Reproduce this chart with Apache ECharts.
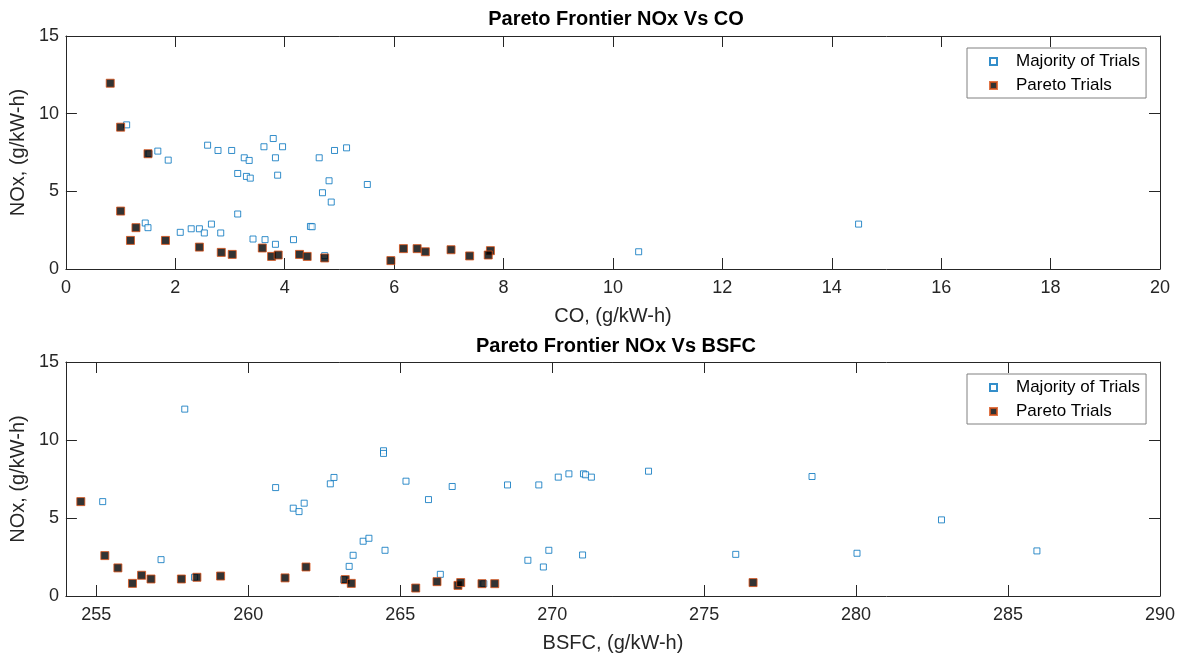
<!DOCTYPE html>
<html>
<head>
<meta charset="utf-8">
<script src="https://cdn.jsdelivr.net/npm/echarts@6/dist/echarts.min.js"></script>
<style>
  html, body { margin: 0; padding: 0; background: #fff; }
  #chart { width: 1182px; height: 658px; }
</style>
</head>
<body>
<div id="chart"></div>
<script>
// NOx vs CO, all trials: [CO, NOx]
const coMajority = [
  [1.11, 9.28], [1.68, 7.59], [1.87, 7.01], [2.59, 7.97], [2.78, 7.63],
  [3.03, 7.63], [3.14, 6.15], [3.26, 7.16], [3.35, 6.99], [3.30, 5.96],
  [3.37, 5.85], [3.62, 7.87], [3.79, 8.40], [3.83, 7.16], [3.96, 7.87],
  [3.87, 6.04], [4.63, 7.16], [4.91, 7.63], [5.13, 7.80], [4.69, 4.91],
  [4.81, 5.68], [4.85, 4.31], [5.51, 5.44], [3.14, 3.54], [1.45, 2.96],
  [1.50, 2.66], [2.09, 2.36], [2.29, 2.59], [2.44, 2.59], [2.53, 2.32],
  [2.66, 2.89], [2.83, 2.32], [3.42, 1.93], [3.64, 1.89], [3.83, 1.59],
  [4.16, 1.89], [4.47, 2.74], [4.50, 2.72], [4.73, 0.86], [1.52, 7.42],
  [10.47, 1.11], [14.49, 2.89]
];
// NOx vs CO, Pareto trials: [CO, NOx]
const coPareto = [
  [0.81, 11.96], [1.00, 9.13], [1.50, 7.42], [1.00, 3.73], [1.18, 1.84],
  [1.28, 2.66], [1.82, 1.84], [2.44, 1.41], [2.84, 1.07], [3.04, 0.94],
  [3.59, 1.35], [3.76, 0.81], [3.88, 0.90], [4.27, 0.94], [4.41, 0.81],
  [4.73, 0.71], [5.94, 0.54], [6.17, 1.31], [6.42, 1.31], [6.57, 1.11],
  [7.04, 1.24], [7.38, 0.84], [7.76, 1.18], [7.72, 0.90]
];
// NOx vs BSFC, all trials: [BSFC, NOx]
const bsfcMajority = [
  [255.21, 6.05], [257.91, 11.98], [257.13, 2.33], [258.23, 1.20], [260.90, 6.95],
  [261.48, 5.63], [261.67, 5.41], [261.84, 5.95], [262.70, 7.19], [262.82, 7.60],
  [263.14, 1.05], [263.32, 1.90], [263.45, 2.61], [263.78, 3.51], [263.97, 3.70],
  [264.45, 9.31], [264.45, 9.14], [264.50, 2.93], [265.19, 7.36], [265.93, 6.18],
  [266.71, 7.02], [268.53, 7.12], [269.56, 7.12], [270.20, 7.62], [270.55, 7.83],
  [271.03, 7.83], [271.10, 7.77], [271.29, 7.62], [273.17, 8.00], [266.32, 1.39],
  [269.20, 2.29], [269.71, 1.86], [269.89, 2.93], [271.00, 2.63], [276.04, 2.67],
  [267.75, 0.79], [278.55, 7.66], [280.03, 2.74], [282.81, 4.88], [285.95, 2.89]
];
// NOx vs BSFC, Pareto trials: [BSFC, NOx]
const bsfcPareto = [
  [254.49, 6.05], [255.28, 2.59], [255.71, 1.80], [256.19, 0.81], [256.49, 1.33],
  [256.80, 1.09], [257.80, 1.09], [258.31, 1.20], [259.09, 1.28], [261.21, 1.16],
  [261.90, 1.86], [263.19, 1.05], [263.39, 0.81], [265.51, 0.51], [266.21, 0.92],
  [266.90, 0.68], [266.99, 0.86], [267.69, 0.79], [268.11, 0.79], [276.61, 0.86]
];
const bsfcTicks = [255, 260, 265, 270, 275, 280, 285, 290];
const seriesNames = ['Majority of Trials', 'Pareto Trials'];
const titles = ['Pareto Frontier NOx Vs CO', 'Pareto Frontier NOx Vs BSFC'];

const FONT = 'Liberation Sans, Arial, Helvetica, sans-serif';
const AXIS = '#262626';
const BLUE = '#0072BD';
const ORANGE = '#D95319';

const lineStyle = { color: AXIS, width: 1 };
const tickStyle = { show: true, inside: true, length: 11, lineStyle: lineStyle };
const labelStyle = { color: AXIS, fontFamily: FONT, fontSize: 18 };
const nameStyle = { color: AXIS, fontFamily: FONT, fontSize: 20 };

function xPair(grid, min, max, interval, ticks, name) {
  const tick = Object.assign({}, tickStyle);
  const label = Object.assign({ margin: 10 }, labelStyle);
  if (ticks) { tick.customValues = ticks; label.customValues = ticks; }
  const base = {
    type: 'value', gridIndex: grid, min: min, max: max,
    splitLine: { show: false },
    axisLine: { show: true, onZero: false, lineStyle: lineStyle }
  };
  if (interval) base.interval = interval;
  const bottom = Object.assign({}, base, {
    position: 'bottom', name: name, nameLocation: 'middle', nameGap: 37,
    nameTextStyle: nameStyle, axisTick: tick, axisLabel: label
  });
  const top = Object.assign({}, base, {
    position: 'top', axisTick: tick, axisLabel: { show: false }
  });
  return [bottom, top];
}

function yPair(grid) {
  const base = {
    type: 'value', gridIndex: grid, min: 0, max: 15, interval: 5,
    splitLine: { show: false },
    axisLine: { show: true, onZero: false, lineStyle: lineStyle },
    axisTick: tickStyle
  };
  const left = Object.assign({}, base, {
    position: 'left', name: 'NOx, (g/kW-h)', nameLocation: 'middle', nameGap: 30,
    nameTextStyle: nameStyle, axisLabel: Object.assign({ margin: 7 }, labelStyle)
  });
  const right = Object.assign({}, base, { position: 'right', axisLabel: { show: false } });
  return [left, right];
}

function majority(data, xi, yi) {
  return {
    name: seriesNames[0], type: 'scatter', xAxisIndex: xi, yAxisIndex: yi,
    symbol: 'rect', symbolSize: 6, data: data, z: 2,
    itemStyle: { color: '#ffffff', borderColor: BLUE, borderWidth: 1 }
  };
}
function pareto(data, xi, yi) {
  return {
    name: seriesNames[1], type: 'scatter', xAxisIndex: xi, yAxisIndex: yi,
    symbol: 'rect', symbolSize: 8, data: data, z: 3,
    itemStyle: { color: '#000000', borderColor: ORANGE, borderWidth: 1 }
  };
}

function legendAt(top) {
  return {
    orient: 'vertical', left: 967, top: top,
    data: seriesNames,
    itemWidth: 7, itemHeight: 7, itemGap: 7,
    padding: [5, 6, 4, 22],
    backgroundColor: '#ffffff', borderColor: '#808080', borderWidth: 1,
    textStyle: { color: '#000000', fontFamily: FONT, fontSize: 17, lineHeight: 17, padding: [0, 0, 0, 14] },
    selectedMode: false
  };
}

const chart = echarts.init(document.getElementById('chart'), null, { renderer: 'canvas' });
chart.setOption({
  animation: false,
  backgroundColor: '#ffffff',
  title: [
    { text: titles[0], left: 611, textAlign: 'center', top: 4,
      textStyle: { fontFamily: FONT, fontSize: 20, fontWeight: 'bold', color: '#000' } },
    { text: titles[1], left: 611, textAlign: 'center', top: 331,
      textStyle: { fontFamily: FONT, fontSize: 20, fontWeight: 'bold', color: '#000' } }
  ],
  grid: [
    { left: 63, right: 22, top: 36, height: 233 },
    { left: 63, right: 22, top: 362, height: 234 }
  ],
  legend: [legendAt(48), legendAt(374)],
  xAxis: [].concat(
    xPair(0, 0, 20, 2, null, 'CO, (g/kW-h)'),
    xPair(1, 254, 290, null, bsfcTicks, 'BSFC, (g/kW-h)')
  ),
  yAxis: [].concat(yPair(0), yPair(1)),
  series: [
    majority(coMajority, 0, 0),
    pareto(coPareto, 0, 0),
    majority(bsfcMajority, 2, 2),
    pareto(bsfcPareto, 2, 2)
  ]
});
</script>
</body>
</html>
